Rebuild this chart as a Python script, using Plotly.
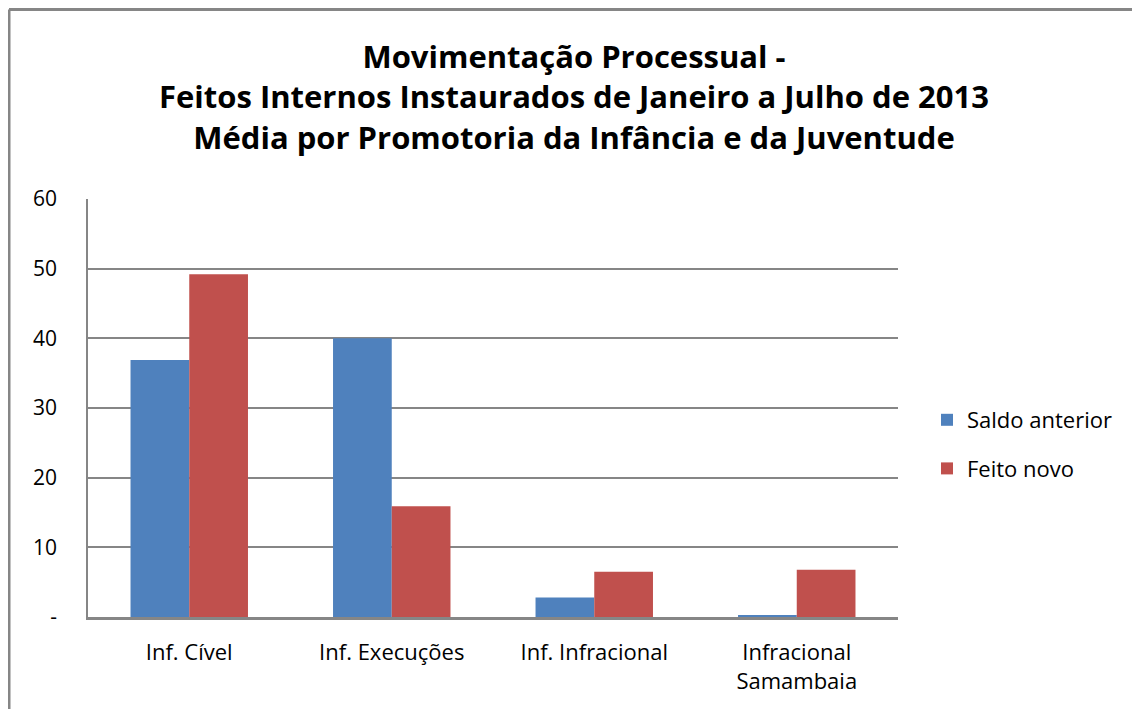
import plotly.graph_objects as go

categories = ["Inf. Cível", "Inf. Execuções", "Inf. Infracional", "Infracional<br>Samambaia"]
saldo_anterior = [36.9, 40.0, 2.8, 0.2]
feito_novo = [49.2, 15.9, 6.5, 6.8]
y_tick_vals = [0, 10, 20, 30, 40, 50, 60]
y_tick_text = ["-", "10", "20", "30", "40", "50", "60"]

FONT = "Open Sans"
GRAY = "#868686"

fig = go.Figure()
fig.add_trace(go.Bar(name="Saldo anterior", x=categories, y=saldo_anterior,
                     marker=dict(color="#4F81BD", line=dict(width=0)), legendgroup="a"))
fig.add_trace(go.Bar(name="Feito novo", x=categories, y=feito_novo,
                     marker=dict(color="#C0504D", line=dict(width=0)), legendgroup="b"))

# page body has an 8px margin; coordinates below are figure pixels
W, H = 1132, 701
L, R, T, B = 80, 890, 191, 609
pw, ph = R - L, B - T

def px_x(v):
    return (v - L) / pw

def px_y(v):
    return (B - v) / ph

fig.update_layout(
    width=W, height=H,
    margin=dict(l=L, r=W - R, t=T, b=H - B, pad=0),
    paper_bgcolor="white", plot_bgcolor="white",
    font=dict(family=FONT, color="#000000", size=22),
    title=dict(
        text="<b>Movimentação Processual -<br>Feitos Internos Instaurados de Janeiro a Julho de 2013<br>Média por Promotoria da Infância e da Juventude</b>",
        x=0.5, xanchor="center", xref="container",
        y=1 - 60 / H, yanchor="top", yref="container",
        font=dict(family=FONT, size=31, color="#000000"),
    ),
    barmode="group", bargap=0.42, bargroupgap=0,
    showlegend=True,
    legend=dict(
        x=px_x(919), xanchor="left", y=px_y(391), yanchor="top",
        font=dict(family=FONT, size=22),
        traceorder="grouped", tracegroupgap=17,
        itemwidth=30, bgcolor="rgba(0,0,0,0)",
    ),
    xaxis=dict(
        showgrid=False, showline=True, linecolor=GRAY, linewidth=2.5,
        ticks="", tickfont=dict(family=FONT, size=22),
        ticklabelstandoff=14, fixedrange=True,
    ),
    yaxis=dict(
        range=[0, 60], tickvals=y_tick_vals, ticktext=y_tick_text,
        showgrid=True, gridcolor=GRAY, gridwidth=1.5,
        showline=True, linecolor=GRAY, linewidth=1.5,
        ticks="", tickfont=dict(family=FONT, size=21),
        ticklabelstandoff=25, zeroline=False, fixedrange=True,
    ),
    shapes=[
        dict(type="line", xref="paper", yref="paper",
             x0=px_x(1), x1=px_x(1), y0=px_y(H + 5), y1=px_y(1.5),
             line=dict(color=GRAY, width=3)),
        dict(type="line", xref="paper", yref="paper",
             x0=px_x(1), x1=px_x(W + 5), y0=px_y(1.5), y1=px_y(1.5),
             line=dict(color=GRAY, width=3)),
    ],
)

fig.write_html("out.html")
